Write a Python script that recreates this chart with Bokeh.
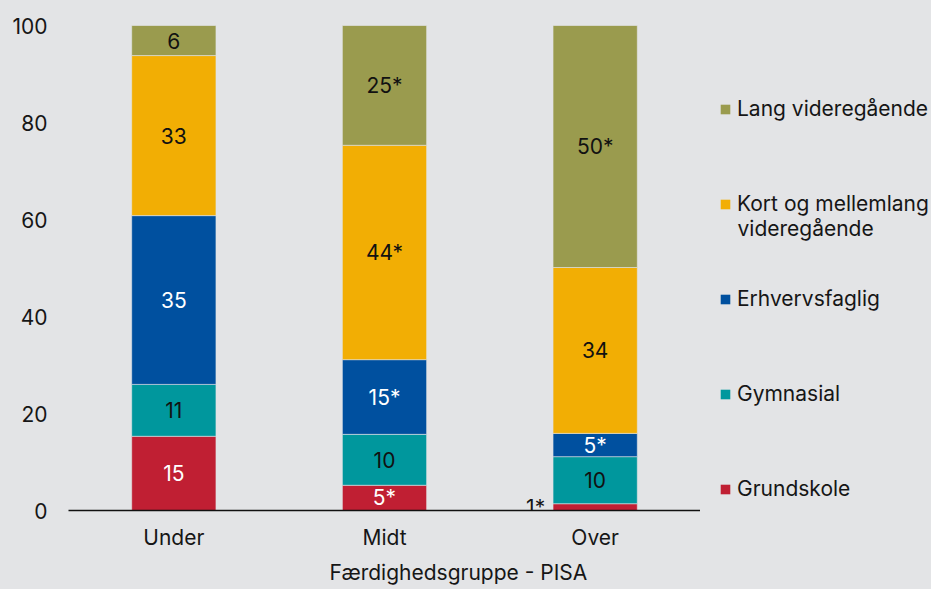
from bokeh.plotting import figure
from bokeh.layouts import row
from bokeh.models import (ColumnDataSource, FactorRange, Range1d, FixedTicker,
                          Legend, LegendItem, Label, Title)
from bokeh.core.properties import value
from bokeh.embed import file_html
from bokeh.resources import INLINE

groups = ["Under", "Midt", "Over"]
grundskole = [15.3, 5.2, 1.4]
gymnasial = [10.7, 10.5, 9.7]
erhvervsfaglig = [34.8, 15.4, 4.8]
kort = [33.0, 44.2, 34.2]
lang = [6.2, 24.7, 49.9]
labels_grund = ["15", "5*", "1*"]
labels_gymn = ["11", "10", "10"]
labels_erhv = ["35", "15*", "5*"]
labels_kort = ["33", "44*", "34"]
labels_lang = ["6", "25*", "50*"]
y_ticks = [0, 20, 40, 60, 80, 100]
x_title = "Færdighedsgruppe - PISA"
legend_names = ["Lang videregående", "Kort og mellemlang", "Erhvervsfaglig",
                "Gymnasial", "Grundskole"]
legend_second_line = "videregående"

colors = ["#c01f33", "#00979d", "#00509f", "#f2ae04", "#9a9b4e"]
text_colors = ["white", "#111111", "white", "#111111", "#111111"]
BG = "#e3e4e6"
FONT = "Inter"
FS = "21px"
TXT = "#161616"
H = 589

keys = ["g", "gy", "e", "k", "l"]
vals = [grundskole, gymnasial, erhvervsfaglig, kort, lang]
labs = [labels_grund, labels_gymn, labels_erhv, labels_kort, labels_lang]

data = {"x": groups}
for k, v in zip(keys, vals):
    data[k] = v
src = ColumnDataSource(data)

p = figure(x_range=FactorRange(factors=groups, range_padding=0),
           y_range=Range1d(0, 100), width=700, height=H,
           output_backend="svg", toolbar_location=None,
           min_border_left=68, min_border_right=0,
           min_border_top=25, min_border_bottom=79)
p.background_fill_color = BG
p.border_fill_color = BG
p.outline_line_color = None
p.grid.visible = False

rs = p.vbar_stack(keys, x="x", width=0.4, source=src, color=colors,
                  line_color=BG, line_width=0.6)

# segment labels
in_x, in_y, in_t, in_c = [], [], [], []
out_x, out_y, out_t = [], [], []
for gi, g in enumerate(groups):
    cum = 0.0
    for si in range(len(keys)):
        v = vals[si][gi]
        mid = cum + v / 2
        cum += v
        if v < 3:
            out_x.append(g); out_y.append(mid); out_t.append(labs[si][gi])
        else:
            in_x.append(g); in_y.append(mid); in_t.append(labs[si][gi])
            in_c.append(text_colors[si])

p.text(x="x", y="y", text="t", text_color="c",
       source=ColumnDataSource(dict(x=in_x, y=in_y, t=in_t, c=in_c)),
       text_font=value(FONT), text_font_size=value(FS),
       text_align="center", text_baseline="middle")
p.text(x="x", y="y", text="t",
       source=ColumnDataSource(dict(x=out_x, y=out_y, t=out_t)),
       text_font=value(FONT), text_font_size=value(FS), text_color=TXT,
       text_align="right", text_baseline="middle", x_offset=-50)

# axes
p.yaxis.ticker = FixedTicker(ticks=y_ticks)
p.yaxis.axis_line_color = None
p.yaxis.major_tick_line_color = None
p.yaxis.minor_tick_line_color = None
p.yaxis.major_tick_out = 0
p.yaxis.major_label_standoff = 21
p.yaxis.major_label_text_font = FONT
p.yaxis.major_label_text_font_size = FS
p.yaxis.major_label_text_color = TXT

p.xaxis.axis_line_color = "#111111"
p.xaxis.axis_line_width = 1.5
p.xaxis.major_tick_line_color = None
p.xaxis.major_tick_out = 0
p.xaxis.major_label_standoff = 14
p.xaxis.major_label_text_font = FONT
p.xaxis.major_label_text_font_size = FS
p.xaxis.major_label_text_color = TXT

p.add_layout(Title(text=x_title, align="left", offset=261, standoff=10,
                   text_font=FONT, text_font_size=FS,
                   text_font_style="normal", text_color=TXT), "below")

# legend panel as a separate figure
leg = figure(width=231, height=H, x_range=Range1d(0, 1), y_range=Range1d(0, 1),
             output_backend="svg", toolbar_location=None,
             x_axis_location=None, y_axis_location=None,
             min_border=0, min_border_left=0, min_border_right=0,
             min_border_top=0, min_border_bottom=0)
leg.background_fill_color = BG
leg.border_fill_color = BG
leg.outline_line_color = None
leg.grid.visible = False

dummy = []
for c in reversed(colors):
    dummy.append(leg.vbar(x=[0], top=[0], bottom=[0], width=0,
                          fill_color=c, line_color=c, line_alpha=0))
items = [LegendItem(label=n, renderers=[r]) for n, r in zip(legend_names, dummy)]
legend = Legend(items=items, location=(19, 9), spacing=70,
                glyph_width=12, glyph_height=12, label_standoff=6,
                padding=0, margin=0, label_height=25,
                background_fill_alpha=0, border_line_alpha=0,
                label_text_font=FONT, label_text_font_size=FS,
                label_text_color=TXT)
leg.add_layout(legend)
leg.add_layout(Label(x=37, y=282, x_units="screen", y_units="screen",
                     text=legend_second_line, text_font=FONT,
                     text_font_size=FS, text_baseline="middle",
                     text_color=TXT))

layout = row(p, leg, spacing=0, styles={"background-color": BG})
open("out.html", "w").write(file_html(layout, INLINE))
